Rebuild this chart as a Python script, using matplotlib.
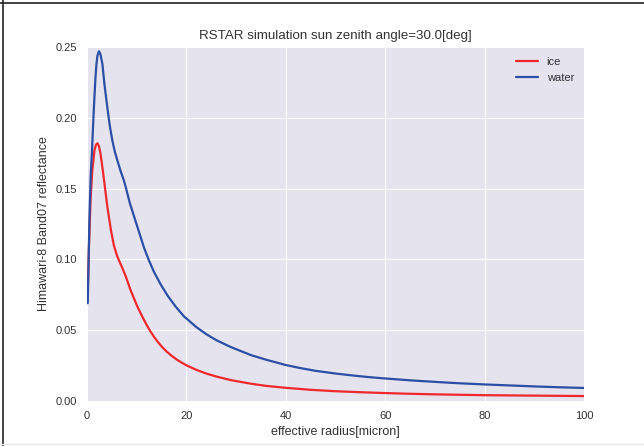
import matplotlib
matplotlib.use("Agg")
import matplotlib.pyplot as plt
import seaborn as sns
from matplotlib.lines import Line2D

# effective radius [micron] and Band07 reflectance for each phase
r_water = [0.15, 0.3, 0.5, 0.75, 1.0, 1.27, 1.5, 1.7, 1.9, 2.1, 2.4, 2.7,
           3.1, 3.5, 4.1, 4.6, 5.1, 5.6, 6.1, 6.8, 7.4, 7.8, 8.6, 9.5, 10.5,
           11.5, 12.5, 13.5, 14.8, 16.2, 17.8, 19.5, 22.0, 24.0, 26.0, 29.0,
           33.0, 36.0, 40.0, 43.0, 46.0, 50.0, 53.0, 56.0, 60.0, 65.0, 70.0,
           75.0, 80.0, 85.0, 90.0, 95.0, 100.0]
refl_water = [0.069, 0.095, 0.130, 0.160, 0.176, 0.198, 0.215, 0.228, 0.238,
              0.244, 0.247, 0.245, 0.238, 0.224, 0.207, 0.194, 0.184, 0.176,
              0.170, 0.162, 0.156, 0.151, 0.140, 0.130, 0.119, 0.108, 0.099,
              0.091, 0.0825, 0.0745, 0.0668, 0.0598, 0.0522, 0.0472, 0.0430,
              0.0380, 0.0324, 0.0292, 0.0254, 0.0232, 0.0213, 0.0194, 0.0182,
              0.0171, 0.0159, 0.0146, 0.0135, 0.0125, 0.0117, 0.0110, 0.0103,
              0.0097, 0.0092]

r_ice = [0.15, 0.4, 0.74, 1.07, 1.5, 1.8, 2.1, 2.4, 2.7, 3.1, 3.5, 4.1,
         4.8, 5.4, 6.1, 7.1, 7.8, 8.8, 10.1, 11.0, 11.8, 12.7, 13.5, 14.3,
         15.2, 16.0, 17.0, 18.0, 19.0, 20.0, 22.0, 24.0, 26.0, 29.0, 33.0,
         36.0, 40.0, 45.0, 50.0, 55.0, 60.0, 65.0, 70.0, 75.0, 80.0, 90.0,
         100.0]
refl_ice = [0.078, 0.110, 0.144, 0.163, 0.177, 0.181, 0.182, 0.180, 0.175,
            0.165, 0.154, 0.137, 0.121, 0.110, 0.102, 0.094, 0.088, 0.078,
            0.067, 0.0605, 0.0550, 0.0495, 0.0452, 0.0415, 0.0378, 0.0350,
            0.0320, 0.0294, 0.0272, 0.0252, 0.0220, 0.0194, 0.0173, 0.0147,
            0.0122, 0.0107, 0.0093, 0.0079, 0.0069, 0.0062, 0.0056, 0.0051,
            0.0047, 0.0044, 0.0041, 0.0038, 0.0035]

sns.set_style("darkgrid", {"axes.facecolor": "#E4E3EE"})
plt.rcParams["font.family"] = ["Liberation Sans", "DejaVu Sans"]
plt.rcParams["text.color"] = "#333333"
plt.rcParams["axes.labelcolor"] = "#333333"
plt.rcParams["xtick.color"] = "#333333"
plt.rcParams["ytick.color"] = "#333333"

fig = plt.figure(figsize=(6.44, 4.46), dpi=100)
ax = fig.add_axes([87 / 644, 45 / 446, 497 / 644, 354 / 446])

ax.plot(r_ice, refl_ice, color="#F0282D", lw=1.6, label="ice",
        solid_joinstyle="round")
ax.plot(r_water, refl_water, color="#2C4EA5", lw=1.6, label="water",
        solid_joinstyle="round")

ax.set_xlim(0, 100)
ax.set_ylim(0, 0.25)
ax.set_yticks([0, 0.05, 0.10, 0.15, 0.20, 0.25])
ax.set_yticklabels(["0.00", "0.05", "0.10", "0.15", "0.20", "0.25"])
ax.tick_params(labelsize=8)
ax.set_xlabel("effective radius[micron]", fontsize=9)
ax.set_ylabel("Himawari-8 Band07 reflectance", fontsize=9)
ax.set_title("RSTAR simulation sun zenith angle=30.0[deg]", fontsize=9.6)
ax.legend(loc="upper right", frameon=False, fontsize=8)
for s in ax.spines.values():
    s.set_visible(False)

# window frame around the figure
fig.add_artist(Line2D([0, 1], [1 - 3 / 446] * 2, color="#222222", lw=1.2,
                      transform=fig.transFigure))
fig.add_artist(Line2D([3 / 644] * 2, [0, 1], color="#222222", lw=1.2,
                      transform=fig.transFigure))
fig.add_artist(Line2D([0, 1], [2 / 446] * 2, color="#E6E6E6", lw=1.0,
                      transform=fig.transFigure))

fig.savefig("out.png", dpi=100)
